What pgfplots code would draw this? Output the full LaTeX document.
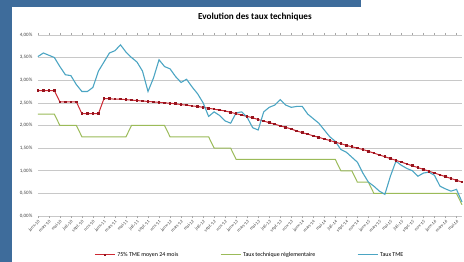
\documentclass[border=0pt]{standalone}
\usepackage{fontspec}
\setmainfont{Carlito}
\usepackage{pgfplots}
\usepackage{pgfplotstable}
\pgfplotsset{compat=1.18}
\definecolor{frameblue}{RGB}{62,108,155}
\definecolor{tmeblue}{RGB}{75,165,195}
\definecolor{techgreen}{RGB}{155,187,89}
\definecolor{redline}{RGB}{205,40,50}
\definecolor{darkred}{RGB}{150,20,30}
\definecolor{gridgray}{RGB}{200,200,200}

\pgfplotstableread{
m tme red green
0 3.52 2.77 2.25
1 3.60 2.77 2.25
2 3.55 2.77 2.25
3 3.50 2.77 2.25
4 3.30 2.52 2.00
5 3.12 2.52 2.00
6 3.10 2.52 2.00
7 2.90 2.52 2.00
8 2.75 2.26 1.75
9 2.75 2.26 1.75
10 2.84 2.26 1.75
11 3.20 2.26 1.75
12 3.40 2.59 1.75
13 3.60 2.59 1.75
14 3.65 2.58 1.75
15 3.78 2.58 1.75
16 3.62 2.57 1.75
17 3.50 2.56 2.00
18 3.40 2.55 2.00
19 3.20 2.54 2.00
20 2.75 2.53 2.00
21 3.05 2.52 2.00
22 3.45 2.51 2.00
23 3.30 2.50 2.00
24 3.25 2.49 1.75
25 3.08 2.48 1.75
26 2.95 2.46 1.75
27 3.02 2.45 1.75
28 2.85 2.43 1.75
29 2.70 2.42 1.75
30 2.50 2.40 1.75
31 2.20 2.38 1.75
32 2.30 2.36 1.50
33 2.22 2.34 1.50
34 2.10 2.32 1.50
35 2.05 2.29 1.50
36 2.28 2.26 1.25
37 2.30 2.23 1.25
38 2.18 2.20 1.25
39 1.95 2.17 1.25
40 1.90 2.13 1.25
41 2.30 2.10 1.25
42 2.40 2.06 1.25
43 2.45 2.03 1.25
44 2.57 1.99 1.25
45 2.45 1.96 1.25
46 2.40 1.92 1.25
47 2.42 1.88 1.25
48 2.42 1.84 1.25
49 2.25 1.81 1.25
50 2.15 1.77 1.25
51 2.05 1.74 1.25
52 1.90 1.70 1.25
53 1.75 1.67 1.25
54 1.65 1.63 1.25
55 1.47 1.60 1.00
56 1.41 1.56 1.00
57 1.30 1.53 1.00
58 1.19 1.50 0.75
59 0.95 1.47 0.75
60 0.75 1.43 0.75
61 0.66 1.39 0.50
62 0.55 1.35 0.50
63 0.48 1.31 0.50
64 0.88 1.27 0.50
65 1.21 1.23 0.50
66 1.12 1.19 0.50
67 1.05 1.15 0.50
68 1.00 1.11 0.50
69 0.88 1.07 0.50
70 0.95 1.03 0.50
71 0.97 0.99 0.50
72 0.90 0.95 0.50
73 0.66 0.91 0.50
74 0.60 0.87 0.50
75 0.55 0.83 0.50
76 0.59 0.79 0.50
77 0.31 0.75 0.25
}\datatable

\begin{document}
\begin{tikzpicture}
\fill[white] (0pt,0pt) rectangle (464pt,263pt);
\fill[frameblue] (0pt,0pt) rectangle (12pt,263pt);
\fill[frameblue] (0pt,256pt) rectangle (363pt,263pt);
\node[font=\bfseries\fontsize{9.2}{10}\selectfont] at (256pt,246pt) {Evolution des taux techniques};
\begin{axis}[
  at={(38pt,46pt)}, anchor=south west,
  width=426pt, height=182pt, scale only axis,
  xmin=0, xmax=77, ymin=0, ymax=4,
  ytick={0,0.5,...,4},
  yticklabels={{0,00\%},{0,50\%},{1,00\%},{1,50\%},{2,00\%},{2,50\%},{3,00\%},{3,50\%},{4,00\%}},
  xtick={0,2,...,76},
  xticklabels={janv.-10,mars-10,mai-10,juil.-10,sept.-10,nov.-10,
    janv.-11,mars-11,mai-11,juil.-11,sept.-11,nov.-11,
    janv.-12,mars-12,mai-12,juil.-12,sept.-12,nov.-12,
    janv.-13,mars-13,mai-13,juil.-13,sept.-13,nov.-13,
    janv.-14,mars-14,mai-14,juil.-14,sept.-14,nov.-14,
    janv.-15,mars-15,mai-15,juil.-15,sept.-15,nov.-15,
    janv.-16,mars-16,mai-16},
  x tick label style={rotate=45, anchor=north east, font=\fontsize{4.5}{5}\selectfont, text=black!75, inner sep=1pt},
  y tick label style={font=\fontsize{5}{6}\selectfont, text=black!75},
  axis line style={draw=none},
  ytick style={draw=none},
  xtick style={draw=gray!70, line width=0.4pt},
  tick align=outside, major tick length=2pt,
  ymajorgrids, grid style={gridgray, line width=0.6pt},
  clip=false,
  legend style={at={(0.5,-0.214)}, anchor=center, draw=none, fill=none,
    legend columns=3, font=\fontsize{6}{7}\selectfont,
    /tikz/every even column/.append style={column sep=40pt}},
  legend cell align=left,
  legend image code/.code={\draw[mark repeat=2,mark phase=2,#1] plot coordinates {(0pt,0pt) (10pt,0pt) (20pt,0pt)};},
]
\addplot[redline, line width=1pt, mark=square*, mark size=0.8pt, mark options={fill=darkred, draw=darkred}] table[x=m, y=red] {\datatable};
\addlegendentry{75\% TME moyen 24 mois}
\addplot[techgreen, line width=1pt] table[x=m, y=green] {\datatable};
\addlegendentry{Taux technique réglementaire}
\addplot[tmeblue, line width=1.1pt] table[x=m, y=tme] {\datatable};
\addlegendentry{Taux TME}
\end{axis}
\end{tikzpicture}
\end{document}
